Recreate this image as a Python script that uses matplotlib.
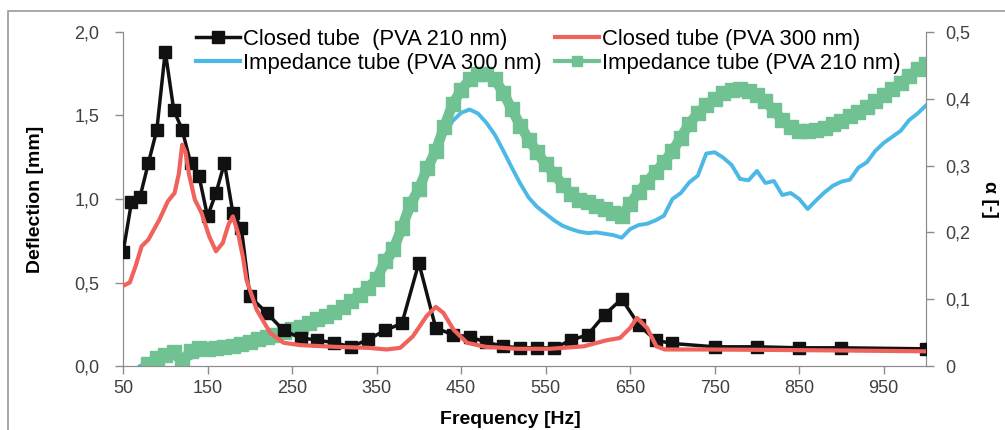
import matplotlib
matplotlib.use("Agg")
from matplotlib import pyplot as plt
from matplotlib.patches import Rectangle
from matplotlib.lines import Line2D
from matplotlib.ticker import FuncFormatter
import numpy as np

# closed tube, PVA 210 nm (deflection, mm)
f_closed210 = [50, 60, 70, 80, 90, 100, 110, 120, 130, 140, 150, 160, 170, 180, 190, 200,
               220, 240, 260, 280, 300, 320, 340, 360, 380, 400, 420, 440, 460, 480, 500,
               520, 540, 560, 580, 600, 620, 640, 660, 680, 700, 750, 800, 850, 900, 1000]
d_closed210 = [0.68, 0.98, 1.01, 1.215, 1.414, 1.883, 1.534, 1.414, 1.215, 1.135, 0.896,
               1.036, 1.215, 0.916, 0.826, 0.417, 0.318, 0.213, 0.169, 0.155, 0.139, 0.115,
               0.159, 0.213, 0.256, 0.617, 0.228, 0.188, 0.175, 0.142, 0.118, 0.109, 0.109,
               0.109, 0.154, 0.188, 0.308, 0.402, 0.248, 0.154, 0.135, 0.115, 0.115, 0.109,
               0.109, 0.103]

# closed tube, PVA 300 nm (deflection, mm)
f_closed300 = [50, 58, 65, 72, 80, 93, 103, 111, 116, 120, 124, 128, 135, 143, 152, 160,
               168, 175, 180, 186, 192, 196, 208, 224, 240, 260, 300, 340, 362, 378, 393,
               409, 420, 429, 441, 457, 479, 516, 555, 595, 622, 638, 650, 658, 670, 681,
               691, 733, 800, 900, 1000]
d_closed300 = [0.48, 0.50, 0.60, 0.717, 0.757, 0.876, 0.986, 1.036, 1.15, 1.325, 1.28,
               1.15, 0.996, 0.916, 0.776, 0.687, 0.737, 0.85, 0.896, 0.797, 0.65, 0.517,
               0.338, 0.199, 0.139, 0.125, 0.115, 0.109, 0.099, 0.109, 0.178, 0.298, 0.354,
               0.318, 0.218, 0.139, 0.115, 0.103, 0.103, 0.118, 0.154, 0.168, 0.228, 0.288,
               0.228, 0.118, 0.099, 0.099, 0.097, 0.093, 0.088]

# impedance tube, PVA 300 nm (alpha)
f_imp300 = np.arange(70, 1001, 10)
a_imp300 = [0.0, 0.007, 0.013, 0.016, 0.012, 0.003, 0.012, 0.016, 0.019, 0.021,
            0.023, 0.025, 0.027, 0.029, 0.032, 0.035, 0.038, 0.042, 0.046, 0.050,
            0.055, 0.061, 0.067, 0.074, 0.082, 0.092, 0.102, 0.113, 0.126, 0.145,
            0.165, 0.205, 0.228, 0.260, 0.288, 0.318, 0.345, 0.367, 0.379, 0.384,
            0.378, 0.364, 0.346, 0.322, 0.297, 0.273, 0.252, 0.238, 0.228, 0.218,
            0.210, 0.205, 0.201, 0.199, 0.200, 0.198, 0.196, 0.192, 0.205, 0.211,
            0.213, 0.218, 0.225, 0.250, 0.259, 0.275, 0.285, 0.318, 0.320, 0.312,
            0.301, 0.280, 0.278, 0.292, 0.274, 0.277, 0.256, 0.259, 0.250, 0.235,
            0.248, 0.260, 0.270, 0.276, 0.279, 0.297, 0.305, 0.322, 0.334, 0.343,
            0.352, 0.368, 0.378, 0.390]

# impedance tube, PVA 210 nm (alpha)
f_imp210 = np.arange(80, 1001, 10)
a_imp210 = [0.003, 0.012, 0.017, 0.021, 0.008, 0.022, 0.027, 0.026, 0.027, 0.028,
            0.030, 0.033, 0.036, 0.040, 0.043, 0.047, 0.051, 0.055, 0.059, 0.064,
            0.070, 0.075, 0.081, 0.088, 0.098, 0.107, 0.117, 0.130, 0.157, 0.175,
            0.207, 0.242, 0.265, 0.296, 0.322, 0.358, 0.392, 0.413, 0.429, 0.437,
            0.437, 0.429, 0.409, 0.384, 0.360, 0.339, 0.320, 0.302, 0.288, 0.271,
            0.258, 0.249, 0.245, 0.240, 0.235, 0.229, 0.225, 0.243, 0.260, 0.276,
            0.290, 0.305, 0.322, 0.342, 0.363, 0.378, 0.390, 0.400, 0.409, 0.413,
            0.415, 0.412, 0.406, 0.396, 0.383, 0.368, 0.358, 0.352, 0.352, 0.354,
            0.357, 0.362, 0.367, 0.374, 0.380, 0.388, 0.396, 0.405, 0.414, 0.424,
            0.434, 0.444, 0.452]

x_ticks = [50, 150, 250, 350, 450, 550, 650, 750, 850, 950]

plt.rcParams['font.family'] = ['Liberation Sans', 'DejaVu Sans']

fig = plt.figure(figsize=(10.05, 4.30), dpi=100)
ax = fig.add_axes([0.1224, 0.1488, 0.7990, 0.7768])
ax2 = ax.twinx()

green = '#70c292'
blue = '#4bb8e6'
red = '#f0625c'
grey = '#8c8c8c'

ax2.plot(f_imp300, a_imp300, color=blue, lw=2.8, zorder=2)
ax2.plot(f_imp210, a_imp210, color=green, lw=7.5, marker='s', ms=9.5,
         mec=green, mfc=green, zorder=3)
ax2.set_ylim(0, 0.5)

ax.set_zorder(ax2.get_zorder() + 1)
ax.patch.set_visible(False)
ax.plot(f_closed210, d_closed210, color='#111111', lw=2.5, marker='s', ms=9, zorder=4)
ax.plot(f_closed300, d_closed300, color=red, lw=3, zorder=5)
ax.set_xlim(50, 1000)
ax.set_ylim(0, 2.0)

ax.set_xticks(x_ticks)
ax.set_yticks([0, 0.5, 1.0, 1.5, 2.0])
ax2.set_yticks([0, 0.1, 0.2, 0.3, 0.4, 0.5])
ax.yaxis.set_major_formatter(FuncFormatter(lambda v, p: ('%.1f' % v).replace('.', ',')))
ax2.yaxis.set_major_formatter(FuncFormatter(lambda v, p: '0' if v == 0 else ('%.1f' % v).replace('.', ',')))

for a in (ax, ax2):
    for s in a.spines.values():
        s.set_color(grey)
    a.spines['top'].set_visible(False)
    a.tick_params(colors=grey, labelcolor='#404040', labelsize=13, length=6, width=1)
ax.tick_params(axis='x', pad=4)
ax2.tick_params(axis='y', pad=8)
ax.tick_params(axis='y', pad=11)

ax.set_xlabel('Frequency [Hz]', fontsize=14, fontweight='bold')
ax.xaxis.set_label_coords(0.483, -0.135)
ax.set_ylabel('Deflection [mm]', fontsize=14, fontweight='bold', labelpad=22)
ax2.set_ylabel('α [-]', fontsize=14, fontweight='bold', rotation=270, labelpad=20)

handles = [
    Line2D([], [], color='#111111', lw=2.5, marker='s', ms=9),
    Line2D([], [], color=blue, lw=3),
    Line2D([], [], color=red, lw=3),
    Line2D([], [], color=green, lw=3, marker='s', ms=7),
]
labels = ['Closed tube  (PVA 210 nm)', 'Impedance tube (PVA 300 nm)',
          'Closed tube (PVA 300 nm)', 'Impedance tube (PVA 210 nm)']
fig.legend(handles, labels, ncol=2, frameon=False,
           loc='upper left', bbox_to_anchor=(0.180, 0.968), fontsize=15.8,
           handlelength=2.0, handletextpad=0.15, columnspacing=0.6, labelspacing=0.12,
           borderpad=0.2)

fig.patches.append(Rectangle((0.008, -0.1), 1.2, 1.074, transform=fig.transFigure,
                             fill=False, edgecolor='#9a9a9a', lw=1.2))

fig.savefig('out.png', dpi=100)
